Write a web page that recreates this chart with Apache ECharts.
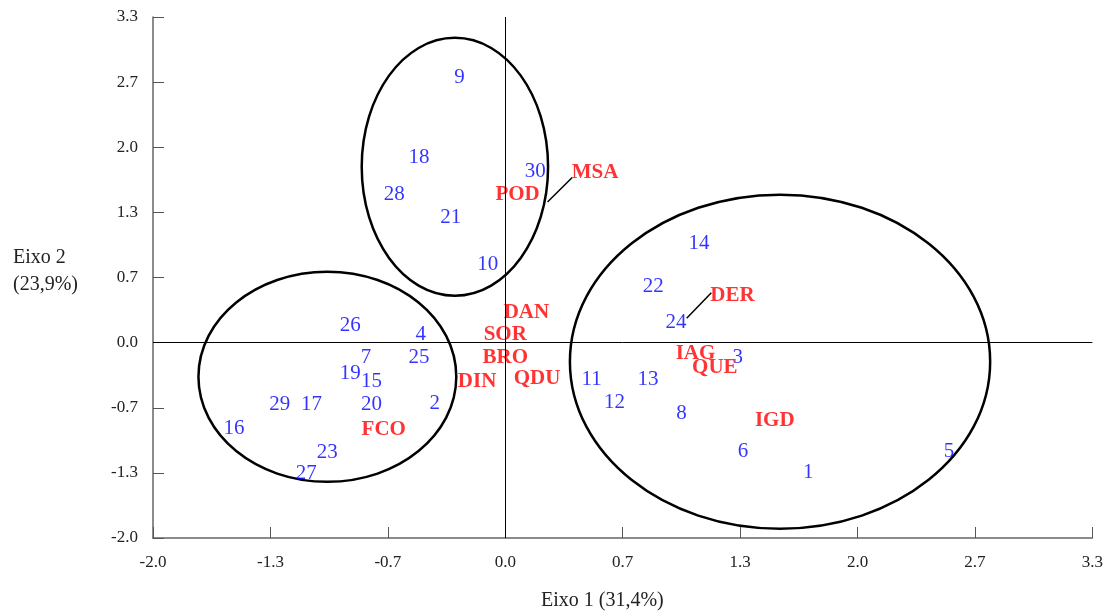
<!DOCTYPE html>
<html><head><meta charset="utf-8">
<script src="https://cdn.jsdelivr.net/npm/echarts@6/dist/echarts.min.js"></script>
<style>html,body{margin:0;padding:0;background:#fff}#c{width:1106px;height:613px}</style>
</head><body><div id="c"></div><script>
// Observations (blue numbers)
const obsNames = ['1','2','3','4','5','6','7','8','9','10','11','12','13','14','15','16','17','18','19','20','21','22','23','24','25','26','27','28','29','30'];
const obsX = [1.72,-0.40,1.32,-0.48,2.52,1.35,-0.79,1.00,-0.26,-0.10,0.49,0.62,0.81,1.10,-0.76,-1.54,-1.10,-0.49,-0.88,-0.76,-0.31,0.84,-1.01,0.97,-0.49,-0.88,-1.13,-0.63,-1.28,0.17];
const obsY = [-1.31,-0.60,-0.13,0.10,-1.09,-1.09,-0.13,-0.70,2.73,0.82,-0.36,-0.59,-0.36,1.04,-0.38,-0.86,-0.61,1.92,-0.30,-0.61,1.30,0.60,-1.10,0.23,-0.13,0.20,-1.32,1.54,-0.61,1.77];
// Variables (red labels)
const varNames = ['MSA','POD','DAN','SOR','BRO','DIN','QDU','FCO','DER','IAG','QUE','IGD'];
const varX = [0.51,0.07,0.12,0.00,0.00,-0.16,0.18,-0.69,1.29,1.08,1.19,1.53];
const varY = [1.76,1.54,0.33,0.10,-0.13,-0.38,-0.35,-0.87,0.50,-0.09,-0.24,-0.78];
// Group ellipses: center and radii in axis units
const ellCx = [-0.286,-1.01,1.56];
const ellCy = [1.80,-0.35,-0.195];
const ellRx = [0.529,0.732,1.193];
const ellRy = [1.32,1.075,1.71];
// Leader lines [x1,y1,x2,y2]
const leaderX1 = [0.38,1.17];
const leaderY1 = [1.69,0.51];
const leaderX2 = [0.24,1.03];
const leaderY2 = [1.44,0.25];
// Axis
const axisMin = -2, axisMax = 10/3, axisStep = 2/3;

const FONT = '"Liberation Serif", serif';
const fmt = v => (Math.abs(v) < 1e-9 ? 0 : v).toFixed(1);

const chart = echarts.init(document.getElementById('c'), null, {renderer:'canvas'});
const axisCommon = {
  type:'value', min:axisMin, max:axisMax, interval:axisStep,
  axisLine:{show:true, onZero:false, lineStyle:{color:'#666', width:1.5}},
  axisTick:{show:true, inside:true, length:11, lineStyle:{color:'#555', width:1}},
  splitLine:{show:false},
  axisLabel:{formatter:fmt, color:'#222', fontFamily:FONT, fontSize:17}
};
chart.setOption({
  animation:false,
  backgroundColor:'#fff',
  grid:{left:153, top:17, right:13, bottom:75},
  xAxis:Object.assign({}, axisCommon, {axisLabel:Object.assign({}, axisCommon.axisLabel, {margin:16})}),
  yAxis:Object.assign({}, axisCommon, {axisLabel:Object.assign({}, axisCommon.axisLabel, {margin:15})}),
  graphic:[
    {type:'text', left:13, top:244, style:{text:'Eixo 2\n(23,9%)', font:'20px "Liberation Serif", serif', fill:'#222', lineHeight:27}},
    {type:'text', left:541, top:591, style:{text:'Eixo 1 (31,4%)', font:'20px "Liberation Serif", serif', fill:'#222'}}
  ],
  series:[
    {
      type:'scatter', name:'zero', data:[], silent:true,
      markLine:{silent:true, symbol:'none', label:{show:false}, lineStyle:{color:'#000', width:1, type:'solid'},
        data:[{xAxis:0},{yAxis:0}]}
    },
    {
      type:'custom', name:'ellipses', silent:true,
      data: ellCx.map((c,i)=>[c, ellCy[i], ellRx[i], ellRy[i]]),
      renderItem:(params, api)=>{
        const c = api.coord([api.value(0), api.value(1)]);
        const s = api.size([api.value(2), api.value(3)]);
        return {type:'ellipse', shape:{cx:c[0], cy:c[1], rx:s[0], ry:s[1]},
          style:{fill:'none', stroke:'#000', lineWidth:2.5}};
      }
    },
    {
      type:'custom', name:'leaders', silent:true,
      data: leaderX1.map((x,i)=>[x, leaderY1[i], leaderX2[i], leaderY2[i]]),
      renderItem:(params, api)=>{
        const a = api.coord([api.value(0), api.value(1)]);
        const b = api.coord([api.value(2), api.value(3)]);
        return {type:'line', shape:{x1:a[0], y1:a[1], x2:b[0], y2:b[1]},
          style:{stroke:'#000', lineWidth:1.5}};
      }
    },
    {
      type:'scatter', name:'obs', symbolSize:0, silent:true,
      data: obsNames.map((n,i)=>({name:n, value:[obsX[i], obsY[i]]})),
      label:{show:true, position:'inside', offset:[0,2], formatter:'{b}', color:'#0000ff', fontFamily:FONT, fontSize:21}
    },
    {
      type:'scatter', name:'vars', symbolSize:0, silent:true,
      data: varNames.map((n,i)=>({name:n, value:[varX[i], varY[i]]})),
      label:{show:true, position:'inside', offset:[0,2], formatter:'{b}', color:'#ff0000', fontFamily:FONT, fontSize:21, fontWeight:'bold'}
    }
  ]
});
</script></body></html>
